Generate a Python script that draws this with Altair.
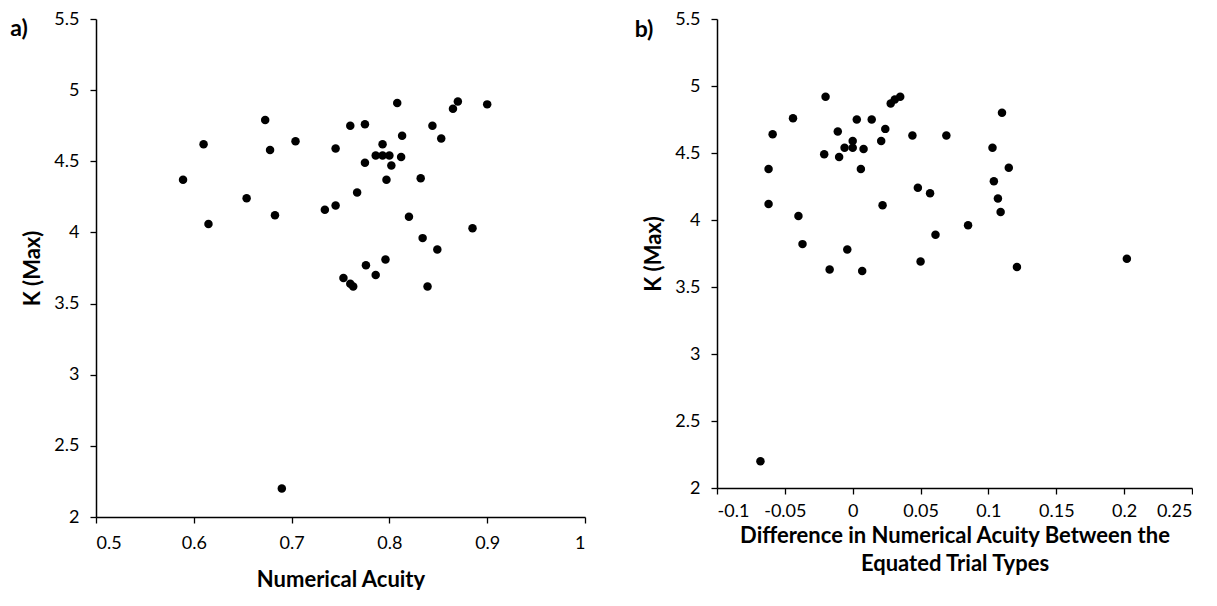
import altair as alt
import pandas as pd

# Panel a: Numerical Acuity vs K (Max)
acuity = [0.808, 0.870, 0.865, 0.900, 0.673, 0.760, 0.775, 0.844, 0.610, 0.704,
          0.678, 0.745, 0.813, 0.853, 0.793, 0.786, 0.793, 0.800, 0.812, 0.775,
          0.802, 0.589, 0.797, 0.832, 0.767, 0.654, 0.734, 0.745, 0.615, 0.683,
          0.820, 0.885, 0.834, 0.849, 0.796, 0.776, 0.753, 0.760, 0.763, 0.786,
          0.839, 0.690]
kmax_a = [4.91, 4.92, 4.87, 4.90, 4.79, 4.75, 4.76, 4.75, 4.62, 4.64,
          4.58, 4.59, 4.68, 4.66, 4.62, 4.54, 4.54, 4.54, 4.53, 4.49,
          4.47, 4.37, 4.37, 4.38, 4.28, 4.24, 4.16, 4.19, 4.06, 4.12,
          4.11, 4.03, 3.96, 3.88, 3.81, 3.77, 3.68, 3.64, 3.62, 3.70,
          3.62, 2.20]

# Panel b: Difference in Numerical Acuity vs K (Max)
diff = [-0.020, 0.028, 0.031, 0.035, -0.044, 0.003, 0.014, 0.110, -0.059, -0.011,
        0.024, 0.044, 0.069, 0.000, 0.021, -0.006, 0.000, 0.008, 0.103, -0.021,
        -0.010, -0.062, 0.006, 0.115, 0.104, 0.048, 0.057, 0.107, -0.062, 0.022,
        0.109, -0.040, 0.085, 0.061, -0.037, -0.004, -0.017, 0.007, 0.050, 0.121,
        0.202, -0.068]
kmax_b = [4.92, 4.87, 4.90, 4.92, 4.76, 4.75, 4.75, 4.80, 4.64, 4.66,
          4.68, 4.63, 4.63, 4.59, 4.59, 4.54, 4.54, 4.53, 4.54, 4.49,
          4.47, 4.38, 4.38, 4.39, 4.29, 4.24, 4.20, 4.16, 4.12, 4.11,
          4.06, 4.03, 3.96, 3.89, 3.82, 3.78, 3.63, 3.62, 3.69, 3.65,
          3.71, 2.20]

x_ticks_a = [0.5, 0.6, 0.7, 0.8, 0.9, 1]
x_ticks_b = [-0.1, -0.05, 0, 0.05, 0.1, 0.15, 0.2, 0.25]
y_ticks = [2, 2.5, 3, 3.5, 4, 4.5, 5, 5.5]
panel_labels = ["a)", "b)"]

FONT = "Lato"

df_a = pd.DataFrame({"x": acuity, "y": kmax_a})
df_b = pd.DataFrame({"x": diff, "y": kmax_b})

label_expr = "'' + datum.value"


def panel(df, xdom, xticks, xtitle, xlpad, xtpad, label, w, h, lab_x, lab_y):
    pts = alt.Chart(df).mark_circle(size=72, color="black", opacity=1).encode(
        x=alt.X("x:Q", scale=alt.Scale(domain=xdom, nice=False, zero=False),
                axis=alt.Axis(values=xticks, labelExpr=label_expr, title=xtitle,
                              labelPadding=xlpad, titlePadding=xtpad)),
        y=alt.Y("y:Q", scale=alt.Scale(domain=[2, 5.5], nice=False, zero=False),
                axis=alt.Axis(values=y_ticks, labelExpr=label_expr, title="K (Max)",
                              titlePadding=9)),
    )
    txt = alt.Chart(pd.DataFrame({"t": [label]})).mark_text(
        font=FONT, fontSize=23, fontWeight="bold", color="black", align="center",
        baseline="middle"
    ).encode(text="t:N", x=alt.value(lab_x), y=alt.value(lab_y))
    return alt.layer(pts, txt).properties(width=w, height=h)


pa = panel(df_a, [0.5, 1], x_ticks_a, "Numerical Acuity", 11, 17, panel_labels[0],
           489, 498, -77, 10)
pb = panel(df_b, [-0.1, 0.25], x_ticks_b,
           ["Difference in Numerical Acuity Between the", "Equated Trial Types"], 8, 5,
           panel_labels[1], 475, 469, -73, 11)

chart = alt.hconcat(
    pa, pb, spacing=48, background="white",
    padding={"left": 2, "top": 2, "right": 0, "bottom": 0},
).configure_view(
    stroke=None
).configure_axis(
    grid=False,
    domainColor="black",
    domainWidth=1.5,
    tickColor="black",
    tickWidth=1.3,
    tickSize=6,
    labelFont=FONT,
    labelFontSize=18,
    labelColor="black",
    labelPadding=11,
    titleFont=FONT,
    titleFontSize=22,
    titleFontWeight="bold",
    titleColor="black",
    titleLineHeight=28,
)

chart.save("out.html", embed_options={"renderer": "svg", "actions": False})
